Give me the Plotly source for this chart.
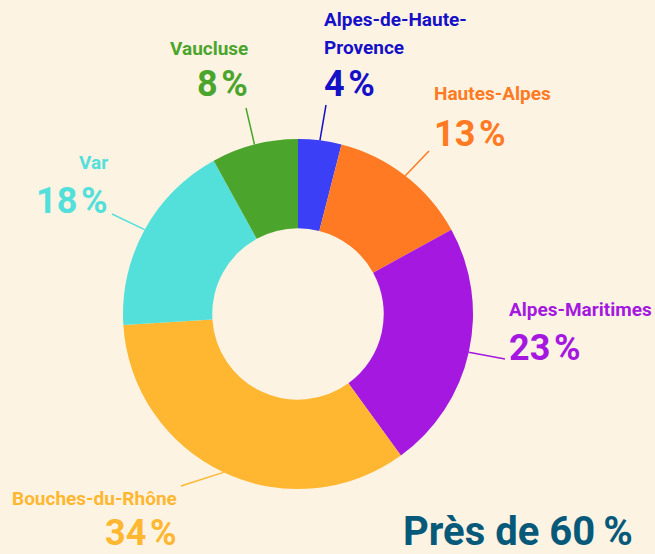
import math
import plotly.graph_objects as go

# ---- data ----
departements = ["Alpes-de-Haute-Provence", "Hautes-Alpes", "Alpes-Maritimes",
                "Bouches-du-Rhône", "Var", "Vaucluse"]
parts = [4, 13, 23, 34, 18, 8]
pct_labels = ["4\u200a%", "13\u200a%", "23\u200a%", "34\u200a%", "18\u200a%", "8\u200a%"]
name_lines = [["Alpes-de-Haute-", "Provence"], ["Hautes-Alpes"], ["Alpes-Maritimes"],
              ["Bouches-du-Rhône"], ["Var"], ["Vaucluse"]]
slice_colors = ["#3b3ff5", "#ff7a22", "#a418df", "#ffb731", "#53e0da", "#4ba52d"]
text_colors = ["#1410c8", "#ff7a22", "#a418df", "#ffb731", "#53e0da", "#4ba52d"]
headline = "Près de 60\u2009%"

# ---- layout (pixels) ----
W, H = 655, 554
BG = "#fdf3e3"
CX, CY, R = 298, 314, 175

def px(x):
    return x / W

def py(y):
    return 1 - y / H

# label layout: (anchor side, x, name line centres, pct centre, connector end)
label_layout = [
    ("left", 322, [20, 47.5], 84, (326, 105)),
    ("left", 432, [94], 134, (429, 151)),
    ("left", 507, [309], 347.5, (505, 359)),
    ("right", 179, [498.5], 533, (181, 486)),
    ("right", 110, [163], 201, (112, 214)),
    ("right", 250, [48], 84, (246, 108)),
]

fig = go.Figure(go.Pie(
    labels=departements, values=parts, sort=False, direction="clockwise",
    rotation=0, hole=0.49, textinfo="none", hoverinfo="skip",
    marker=dict(colors=slice_colors, line=dict(width=0)),
    domain=dict(x=[px(CX - R), px(CX + R)], y=[py(CY + R), py(CY - R)]),
    showlegend=False,
))

annotations = []
shapes = []
total = sum(parts)
cum = 0
for i, v in enumerate(parts):
    mid = (cum + v / 2) / total * 2 * math.pi
    cum += v
    sx = CX + R * math.sin(mid)
    sy = CY - R * math.cos(mid)
    side, x, name_ys, pct_y, (ex, ey) = label_layout[i]
    shapes.append(dict(type="line", xref="paper", yref="paper",
                       x0=px(sx), y0=py(sy), x1=px(ex), y1=py(ey),
                       line=dict(color=text_colors[i], width=1.5)))
    for line, ly in zip(name_lines[i], name_ys):
        annotations.append(dict(
            text="<b>" + line + "</b>", x=px(x), y=py(ly), xref="paper", yref="paper",
            xanchor=side, yanchor="middle", showarrow=False, align=side,
            font=dict(family="Roboto", size=19, color=text_colors[i])))
    annotations.append(dict(
        text="<b>" + pct_labels[i] + "</b>", x=px(x), y=py(pct_y), xref="paper", yref="paper",
        xanchor=side, yanchor="middle", showarrow=False, align=side,
        font=dict(family="Roboto", size=36, color=text_colors[i])))

annotations.append(dict(
    text="<b>" + headline + "</b>", x=px(635), y=py(531), xref="paper", yref="paper",
    xanchor="right", yanchor="middle", showarrow=False,
    font=dict(family="Roboto", size=40, color="#07597a")))

fig.update_layout(
    width=W, height=H, margin=dict(l=0, r=0, t=0, b=0),
    paper_bgcolor=BG, plot_bgcolor=BG,
    annotations=annotations, shapes=shapes,
)

fig.write_html("out.html", config={"displayModeBar": False},
               post_script="document.body.style.margin='0';document.body.style.background='%s';" % BG)
